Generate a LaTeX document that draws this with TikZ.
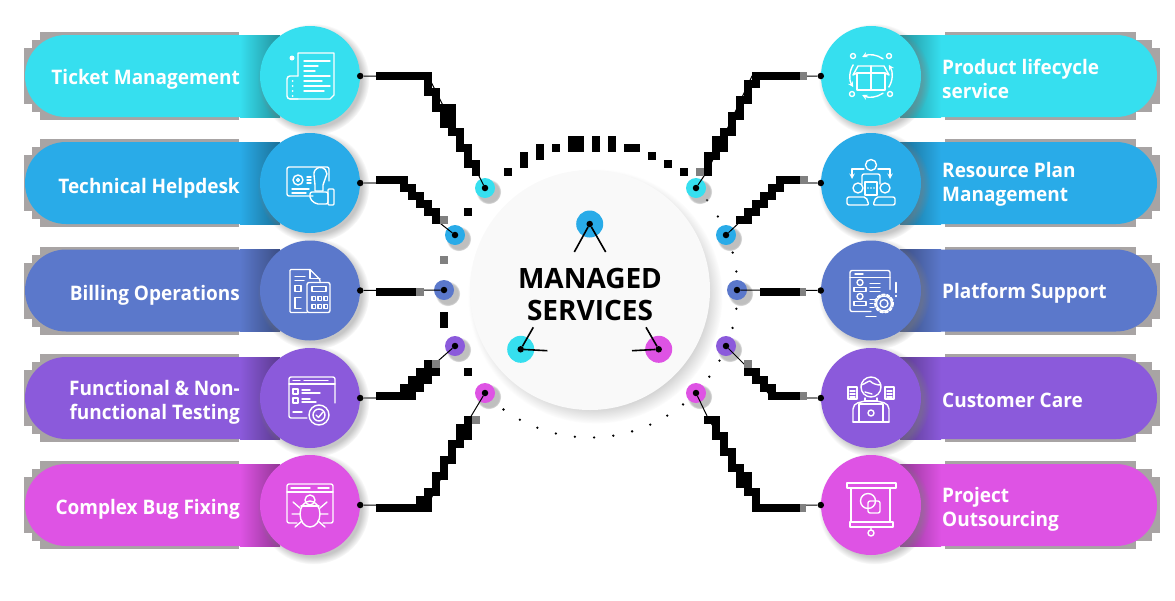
\documentclass[tikz,border=0pt]{standalone}
\usepackage{fontspec}
\setmainfont{Open Sans}
\newfontfamily\rowfont{Open Sans}[BoldFeatures={FakeStretch=0.95}]
\usetikzlibrary{shadows}
\definecolor{rowcyan}{HTML}{36DFEF}
\definecolor{rowblue}{HTML}{29ABE8}
\definecolor{rowindigo}{HTML}{5B78CB}
\definecolor{rowpurple}{HTML}{8B5ADB}
\definecolor{rowmagenta}{HTML}{DE53E4}
\definecolor{pixgray}{HTML}{A8A4A4}
\tikzset{
	disc/.style={circle, minimum size=100pt, inner sep=0pt,
		circular drop shadow={shadow xshift=3pt, shadow yshift=-3pt, shadow scale=1.12, opacity=.45}},
	hub/.style={circle, minimum size=20pt, inner sep=0pt,
		circular drop shadow={shadow xshift=3pt, shadow yshift=-3pt, shadow scale=1.25, opacity=.5}},
	corehub/.style={circle, minimum size=27pt, inner sep=0pt},
	pindot/.style={circle, fill=black, minimum size=6.5pt, inner sep=0pt},
	wire/.style={black, line width=1pt},
	wiregray/.style={gray, line width=1.6pt},
	corewire/.style={black, line width=1.6pt},
	rowtext/.style={white, inner sep=0pt, font=\rowfont\bfseries\fontsize{20}{24}\selectfont},
	icon/.style={draw=white, line width=1.4pt, line join=round, line cap=round, >=stealth}
}
% blocks of the jagged lines: x1/y1/x2/y2
\newcommand{\stair}[1]{\foreach \xa/\ya/\xb/\yb in {#1} \fill[black] (\xa,\ya) rectangle (\xb,\yb);}
\newcommand{\stairgray}[1]{\foreach \xa/\ya/\xb/\yb in {#1} \fill[gray] (\xa,\ya) rectangle (\xb,\yb);}
\begin{document}
\begin{tikzpicture}[x=1pt, y=-1pt]
	\useasboundingbox (0,0) rectangle (1175,600);
	% rows
	\foreach \n/\c/\y in {1/rowcyan/76, 2/rowblue/183, 3/rowindigo/290.5, 4/rowpurple/398, 5/rowmagenta/505}{
		\fill[pixgray] (40,{\y-44}) rectangle (239,{\y+44});
		\fill[pixgray] (32,{\y-36}) rectangle (60,{\y+36});
		\fill[pixgray] (24,{\y-28}) rectangle (60,{\y+28});
		\fill[pixgray] (945,{\y-44}) rectangle (1136,{\y+44});
		\fill[pixgray] (1120,{\y-36}) rectangle (1152,{\y+36});
		\fill[pixgray] (1120,{\y-28}) rectangle (1160,{\y+28});
		\fill[\c, rounded corners=41pt] (25,{\y-41}) rectangle (300,{\y+41});
		\fill[\c, rounded corners=41pt] (880,{\y-41}) rectangle (1157,{\y+41});
		\shade[left color=\c, right color=\c!65!black] (240,{\y-41}) rectangle (280,{\y+41});
		\shade[left color=\c!65!black, right color=\c] (900,{\y-41}) rectangle (941,{\y+41});
		\node[disc, fill=\c] (iconL\n) at (310,\y) {};
		\node[disc, fill=\c] (iconR\n) at (871,\y) {};
		\node[pindot] (edgeL\n) at (iconL\n.east) {};
		\node[pindot] (edgeR\n) at (iconR\n.west) {};
	}
	% labels
	\node[rowtext, anchor=east] (textL1) at (240,79) {Ticket Management};
	\node[rowtext, anchor=east] (textL2) at (240,188) {Technical Helpdesk};
	\node[rowtext, anchor=east] (textL3) at (240,295) {Billing Operations};
	\node[rowtext, anchor=east, align=right] (textL4) at (240,402) {Functional \& Non-\\functional Testing};
	\node[rowtext, anchor=east] (textL5) at (240,509) {Complex Bug Fixing};
	\node[rowtext, anchor=west, align=left] (textR1) at (942,79) {Product lifecycle\\service};
	\node[rowtext, anchor=west, align=left] (textR2) at (942,184) {Resource Plan\\Management};
	\node[rowtext, anchor=west] (textR3) at (942,293) {Platform Support};
	\node[rowtext, anchor=west] (textR4) at (942,400) {Customer Care};
	\node[rowtext, anchor=west, align=left] (textR5) at (942,509) {Project\\Outsourcing};
	% middle
	\foreach \a in {88.4,80.9,73.4,65.9,58.4,50.9,36,28.6,14.9,7.3,-7.2,-14.7,-29.9,-37.5,95.9,103.4,110.9,118.4,125.9}
		\fill[black] ({590+147.5*cos(\a)},{290+147.5*sin(\a)}) circle (1.3);
	\stair{504/168/512/176, 520/152/528/168, 536/144/544/160, 552/144/560/152, 568/136/584/152, 592/136/600/152,
		608/136/616/152, 624/144/640/152, 648/152/656/160, 664/160/672/168, 680/168/688/176, 464/208/472/216, 440/312/448/328, 464/368/472/376}
	\stairgray{440/256/448/264}
	\node[circle, fill=black!2.5, minimum size=240pt, inner sep=0pt,
		circular drop shadow={shadow xshift=5pt, shadow yshift=-6pt, shadow scale=1.06, opacity=.4}] (core) at (590,290) {};
	\node[inner sep=0pt, align=center, font=\bfseries\fontsize{28}{32}\selectfont] (coreText) at (590,294) {MANAGED\\SERVICES};
	\node[corehub, fill=rowblue] (coreA) at (589.7,224) {};
	\node[corehub, fill=rowcyan] (coreB) at (520.7,349.3) {};
	\node[corehub, fill=rowmagenta] (coreC) at (658.7,349.3) {};
	\node[pindot] (coreAdot) at (coreA) {};
	\node[pindot] (coreBdot) at (coreB) {};
	\node[pindot] (coreCdot) at (coreC) {};
	\coordinate (coreA1) at (574.3,252);
	\coordinate (coreA2) at (605.7,252);
	\coordinate (coreB1) at (533.3,327.3);
	\coordinate (coreB2) at (547.3,350.7);
	\coordinate (coreC1) at (646,327.3);
	\coordinate (coreC2) at (632,350.7);
	\draw[corewire] (coreA1) -- (coreAdot) -- (coreA2);
	\draw[corewire] (coreB1) -- (coreBdot) -- (coreB2);
	\draw[corewire] (coreC1) -- (coreCdot) -- (coreC2);
	% hubs and wires
	\foreach \h/\c/\x/\y/\kx/\ky/\tx/\ty in {
		L1/rowcyan/485/188/428/76/476/170, L2/rowblue/455/235/404/183/436/220,
		L3/rowindigo/444/290/400/290/420/290, L4/rowpurple/455/346/404/398/430/368,
		L5/rowmagenta/485/393/428/505/470/418,
		R1/rowcyan/696/188/752/76/708/170, R2/rowblue/726/235/780/183/742/220,
		R3/rowindigo/737/290/780/290/765/290, R4/rowpurple/726/346/772/398/748/368,
		R5/rowmagenta/696/393/760/505/708/418}{
		\node[hub, fill=\c] (hub\h) at (\x,\y) {};
		\node[pindot] (pin\h) at (hub\h) {};
		\coordinate (knee\h) at (\kx,\ky);
		\coordinate (tail\h) at (\tx,\ty);
		\draw[wire] (edge\h) -- (knee\h) -- (tail\h) -- (pin\h);
	}
	\foreach \h in {L2,L4,R2,R4}
		\draw[wiregray] (edge\h) -- (knee\h);
	\stair{376/72/432/80, 424/80/432/96, 432/88/440/112, 440/104/456/128, 448/128/464/136, 456/136/464/152, 464/144/472/168, 472/160/480/176}
	\stair{376/176/408/184, 400/184/416/192, 408/192/424/200, 416/200/432/208, 424/208/440/216, 432/216/440/224}
	\stairgray{440/216/448/224, 416/288/424/296}
	\stair{376/288/416/296}
	\stair{376/392/416/400, 400/384/424/392, 408/376/432/384, 416/368/440/376, 424/360/432/368}
	\stairgray{432/360/440/368}
	\stair{376/504/432/512, 416/496/432/504, 424/488/440/496, 432/472/440/488, 432/472/448/480, 440/456/448/472, 440/456/456/464, 448/448/456/456, 448/440/464/448, 456/424/472/440, 464/416/472/424}
	\stairgray{472/416/480/424}
	\stair{752/72/800/80, 744/80/760/88, 744/88/752/96, 736/96/752/104, 736/104/744/112, 728/112/744/120, 728/120/736/128, 720/128/736/136, 712/136/728/152, 704/152/720/160, 704/160/712/176}
	\stairgray{696/168/704/176, 800/72/807/80}
	\stair{776/176/800/184, 768/184/784/192, 760/192/776/200, 752/200/768/208, 744/208/760/216, 736/216/752/224}
	\stairgray{800/176/808/184, 800/288/806/296}
	\stair{760/288/800/296}
	\stair{768/392/800/400, 760/384/776/392, 752/376/768/384, 744/368/760/376}
	\stairgray{800/392/807/400, 744/360/752/368, 800/504/806/512}
	\stair{752/504/800/512, 752/488/760/504, 744/488/760/496, 736/472/752/488, 728/464/744/472, 728/456/736/464, 720/448/736/456, 720/440/728/448, 712/432/728/440, 712/424/720/432, 704/416/720/424}
	% Ticket Management
	\begin{scope}[shift={(iconL1.center)}, icon]
		\draw (-12,0) -- (-12,-23) -- (24,-23) -- (24,19) -- (20,23) -- (-20,23);
		\draw[rounded corners=3pt] (-12,23) -- (-23,23) -- (-23,0) -- (-12,0);
		\fill[white] (-18,-18) circle (2.5);
		\foreach \y in {5,10,15,20} \fill[white] (-17.5,\y) circle (1);
		\foreach \y/\x in {-15/20, -10/8, -5/5, 0/20, 5/12, 10/20, 15/14} \draw (-6,\y) -- (\x,\y);
	\end{scope}
	% Technical Helpdesk
	\begin{scope}[shift={(iconL2.center)}, icon]
		\draw[rounded corners=2pt] (3,13) -- (-23,13) -- (-23,-16) -- (19,-16) -- (19,-2);
		\draw (-12,-3) circle (5) (-12,-3) circle (1.5);
		\foreach \y in {-6,-3,0} \draw (-3,\y) -- (1,\y);
		\draw (-18,6) -- (-1,6) (-18,10) -- (-4,10);
		\draw (4,-8) arc[start angle=170, end angle=360, radius=6.5] -- (13,2) -- (13,8) -- (5,8) -- (5,2) -- cycle;
		\draw[rounded corners=2pt] (0,9) -- (18,9) -- (18,21) -- (6,21) -- (0,16) -- cycle;
		\draw[rounded corners=1pt] (18,6) rectangle (24,22);
	\end{scope}
	% Billing Operations
	\begin{scope}[shift={(iconL3.center)}, icon]
		\draw[rounded corners=1pt] (-3,22) -- (-20,22) -- (-20,-21) -- (0,-21) -- (10,-11) -- (10,-8);
		\draw (0,-21) -- (0,-12) -- (10,-12);
		\draw (-15,-14) -- (-5,-14) (-15,-10) -- (-6,-10);
		\draw (-15,-5) rectangle (-9,1);
		\draw (-9,7) -- (-15,7) -- (-15,18) -- (-9,18);
		\draw[rounded corners=2pt] (-3,-8) rectangle (20,22);
		\draw (2,-4) rectangle (16,1);
		\foreach \x in {2,8,14} \foreach \y in {6,14} \draw (\x,\y) rectangle ++(3.5,4);
	\end{scope}
	% Functional Testing
	\begin{scope}[shift={(iconL4.center)}, icon]
		\draw[rounded corners=2pt] (-3,20) -- (-21,20) -- (-21,-21) -- (25,-21) -- (25,5);
		\draw (-21,-14) -- (25,-14);
		\draw (-6,-17.5) -- (18,-17.5) (-17,-17.5) -- (-10,-17.5);
		\draw (-17,-9) rectangle (-12,-4) (-17,0) rectangle (-12,5);
		\draw (-8,-8) -- (0,-8) (-8,-5) -- (10,-5) (-8,1) -- (0,1) (-8,4) -- (6,4);
		\draw (-17,14) -- (-8,14);
		\filldraw[fill=rowpurple] (9,17) circle (10);
		\draw (9,17) circle (6);
		\draw (6,17) -- (8.5,19.5) -- (13,14);
	\end{scope}
	% Complex Bug Fixing
	\begin{scope}[shift={(iconL5.center)}, icon]
		\draw[rounded corners=2pt] (-13,18) -- (-23,18) -- (-23,-21) -- (23,-21) -- (23,18) -- (13,18);
		\draw (-23,-13) -- (23,-13);
		\draw (-19,-17) -- (0,-17) (8,-17) -- (19,-17);
		\draw (0,9) ellipse (10 and 13);
		\draw (0,-5) circle (5);
		\draw (-10,3) -- (-17,-3) (10,3) -- (17,-3) (-10,9) -- (-18,9) (10,9) -- (18,9) (-8,16) -- (-15,22) (8,16) -- (15,22);
		\draw (-9,1) -- (9,1);
	\end{scope}
	% Product lifecycle service
	\begin{scope}[shift={(iconR1.center)}, icon]
		\draw (-14,-3) rectangle (14,14) (0,-3) -- (0,14);
		\draw (-14,-3) -- (-18,-1) -- (-13,-10) -- (13,-10) -- (18,-1) -- (14,-3);
		\draw (0,-10) -- (0,-3);
		\draw[->] (55:21) arc[start angle=55, end angle=115, radius=21];
		\draw[->] (32:21) arc[start angle=32, end angle=-32, radius=21];
		\draw[->] (-55:21) arc[start angle=-55, end angle=-115, radius=21];
		\draw[->] (212:21) arc[start angle=212, end angle=148, radius=21];
		\foreach \x/\y in {-18/-20, 18/-20, -19/18, 19/18} \draw (\x,\y) circle (2.5);
	\end{scope}
	% Resource Plan Management
	\begin{scope}[shift={(iconR2.center)}, icon]
		\draw (0,-18) circle (5.5);
		\draw[rounded corners=2pt] (-9,1) -- (-9,-9) -- (9,-9) -- (9,1);
		\draw[->] (-7,-14) -- (-19,-14) -- (-19,-4);
		\draw[->] (7,-14) -- (19,-14) -- (19,-4);
		\draw (-13,5) circle (5) (14,5) circle (5);
		\draw (-6,-1) rectangle (6,12);
		\foreach \x in {-3,0,3} \fill[white] (\x,5) circle (.8);
		\draw[rounded corners=2pt] (-24,22) -- (-24,14) -- (-5,14) -- (-2,22) -- cycle;
		\draw[rounded corners=2pt] (24,22) -- (24,14) -- (5,14) -- (2,22) -- cycle;
	\end{scope}
	% Platform Support
	\begin{scope}[shift={(iconR3.center)}, icon]
		\draw[rounded corners=2pt] (0,21) -- (-21,21) -- (-21,-20) -- (19,-20) -- (19,-1);
		\draw (-21,-13) -- (19,-13);
		\draw (-16,-16.5) -- (-8,-16.5);
		\draw (-11,-8) circle (3) (-11,6) circle (3);
		\draw (-17,1) -- (-17,-3) -- (-5,-3) -- (-5,1) -- cycle;
		\draw (-17,15) -- (-17,11) -- (-5,11) -- (-5,15) -- cycle;
		\foreach \y in {-7,-3,1} \draw (-1,\y) -- (9,\y);
		\draw (-1,9) -- (4,9) (-1,13) -- (2,13) (-1,17) -- (3,17);
		\draw (13,13) circle (4);
		\draw[dashed, dash pattern=on 3pt off 2pt, line width=2pt] (13,13) circle (9);
		\draw (13,13) circle (7.5);
		\draw (25,-8) -- (25,2) (25,5) -- (25,6);
		\draw (-5,26) -- (5,26);
	\end{scope}
	% Customer Care
	\begin{scope}[shift={(iconR4.center)}, icon]
		\draw (0,-11) circle (10);
		\draw (-10,-13) .. controls (-6,-14) and (-3,-17) .. (-1,-17) .. controls (2,-14) and (6,-13) .. (10,-13);
		\draw (-6,-6) -- (1,-4);
		\draw (-6,0) -- (-6,3) -- (6,3) -- (6,0);
		\draw[rounded corners=5pt] (-18,24) -- (-18,6) -- (-6,3);
		\draw[rounded corners=5pt] (18,24) -- (18,6) -- (6,3);
		\draw (-18,24) -- (18,24);
		\draw (-12,6) rectangle (12,24);
		\draw (0,15) circle (3);
		\draw (-23,-11) rectangle (-14,1) (14,-11) rectangle (23,1);
		\foreach \y in {-7,-4,-1} \draw (-21,\y) -- (-16,\y) (16,\y) -- (21,\y);
	\end{scope}
	% Project Outsourcing
	\begin{scope}[shift={(iconR5.center)}, icon]
		\draw (-24,-22) rectangle (25,-17);
		\draw (-20,17) -- (-20,-17) (19,-17) -- (19,17);
		\draw (-21,17) rectangle (22,22);
		\draw (0,22) -- (0,25) (0,28) circle (3);
		\draw (-3,-4) circle (7.5);
		\draw[rounded corners=2pt] (-3,-4) rectangle (9,8);
	\end{scope}
\end{tikzpicture}
\end{document}
